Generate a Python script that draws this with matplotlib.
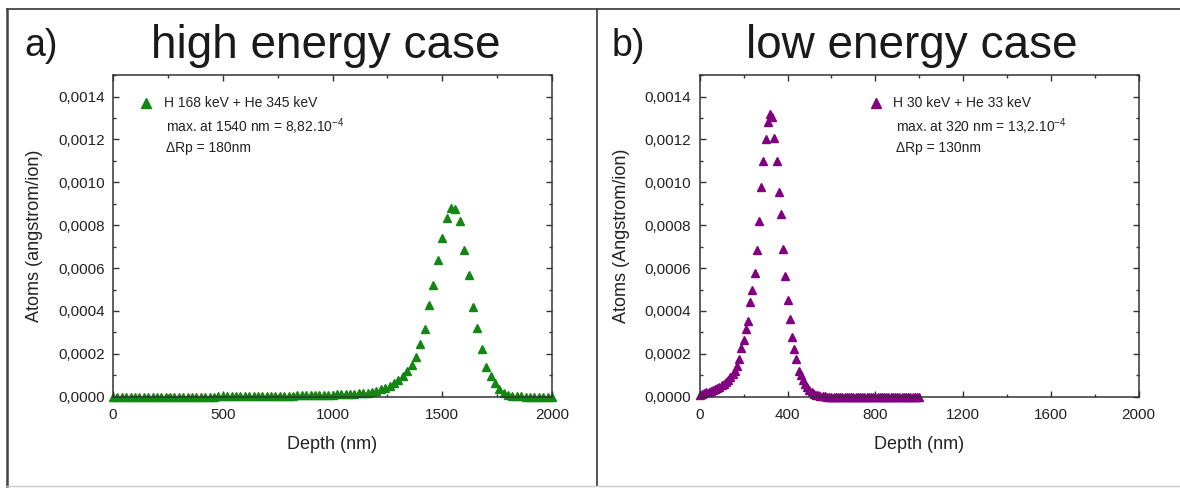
"""Implanted H/He depth profiles: high vs low energy case."""

import matplotlib
matplotlib.use("Agg")
import matplotlib.pyplot as plt
from matplotlib.lines import Line2D
from matplotlib.ticker import FuncFormatter, MultipleLocator
import numpy as np

plt.rcParams["font.family"] = ["Liberation Sans", "DejaVu Sans"]
plt.rcParams["mathtext.default"] = "regular"

# high energy case, depth step 20 nm, values in units of 1e-4 atoms/(A*ion)
high_depth = np.arange(0, 2001, 20)
high_vals = [
    0.01, 0.01, 0.01, 0.01, 0.01, 0.01, 0.01, 0.01, 0.01, 0.01,
    0.01, 0.01, 0.01, 0.01, 0.01, 0.01, 0.01, 0.01, 0.01, 0.01,
    0.01, 0.01, 0.01, 0.01, 0.02, 0.02, 0.02, 0.02, 0.02, 0.02,
    0.03, 0.03, 0.03, 0.03, 0.03, 0.04, 0.04, 0.04, 0.04, 0.05,
    0.05, 0.05, 0.06, 0.06, 0.06, 0.07, 0.07, 0.08, 0.08, 0.09,
    0.10, 0.11, 0.12, 0.13, 0.14, 0.15, 0.16, 0.17, 0.19, 0.22,
    0.27, 0.34, 0.41, 0.52, 0.65, 0.80, 0.97, 1.18, 1.47, 1.86,
    2.45, 3.15, 4.29, 5.21, 6.38, 7.39, 8.33, 8.82, 8.78, 8.21,
    6.86, 5.66, 4.19, 3.22, 2.24, 1.41, 0.99, 0.65, 0.34, 0.18,
    0.09, 0.05, 0.03, 0.02, 0.01, 0.01, 0.01, 0.01, 0.01, 0.01,
    0.01,
]

# low energy case, depth step 10 nm
low_depth = np.arange(0, 1001, 10)
low_vals = [
    0.10, 0.13, 0.16, 0.20, 0.23, 0.27, 0.30, 0.35, 0.40, 0.46,
    0.53, 0.61, 0.70, 0.80, 0.92, 1.06, 1.22, 1.45, 1.74, 2.26,
    2.63, 3.18, 3.54, 4.41, 4.97, 5.75, 6.85, 8.22, 9.78, 11.0,
    12.0, 12.82, 13.2, 13.05, 12.09, 11.0, 9.53, 8.53, 6.88, 5.64,
    4.52, 3.62, 2.79, 2.21, 1.77, 1.19, 1.00, 0.80, 0.60, 0.45,
    0.32, 0.22, 0.15, 0.10, 0.07, 0.05, 0.03, 0.02, 0.01, 0.01,
    0.01, 0.01, 0.01, 0.01, 0.01, 0.01, 0.01, 0.01, 0.01, 0.01,
    0.01, 0.01, 0.01, 0.01, 0.01, 0.01, 0.01, 0.01, 0.01, 0.01,
    0.01, 0.01, 0.01, 0.01, 0.01, 0.01, 0.01, 0.01, 0.01, 0.01,
    0.01, 0.01, 0.01, 0.01, 0.01, 0.01, 0.01, 0.01, 0.01, 0.01,
    0.01,
]

panels = [
    {
        "tag": "a)", "title": "high energy case",
        "x": high_depth, "y": np.array(high_vals) * 1e-4,
        "color": "#138613", "ylabel": "Atoms (angstrom/ion)",
        "major": 500, "minor": 250,
        "legend": ["H 168 keV + He 345 keV",
                   "max. at 1540 nm = 8,82.10$^{-4}$",
                   "\u0394Rp = 180nm"],
    },
    {
        "tag": "b)", "title": "low energy case",
        "x": low_depth, "y": np.array(low_vals) * 1e-4,
        "color": "#800080", "ylabel": "Atoms (Angstrom/ion)",
        "major": 400, "minor": 200,
        "legend": ["H 30 keV + He 33 keV",
                   "max. at 320 nm = 13,2.10$^{-4}$",
                   "\u0394Rp = 130nm"],
    },
]

fig = plt.figure(figsize=(11.8, 4.88), dpi=100)

axes_left = [0.0958, 0.593]
legend_x = [0.06, 0.386]
tag_x = [0.021, 0.518]
title_x = [0.276, 0.773]

for i, p in enumerate(panels):
    ax = fig.add_axes([axes_left[i], 0.187, 0.372, 0.659])
    ax.plot(p["x"], p["y"], linestyle="none", marker="^", ms=5.6,
            color=p["color"], clip_on=False)
    ax.set_xlim(0, 2000)
    ax.set_ylim(0, 0.0015)
    ax.xaxis.set_major_locator(MultipleLocator(p["major"]))
    ax.xaxis.set_minor_locator(MultipleLocator(p["minor"]))
    ax.yaxis.set_major_locator(MultipleLocator(0.0002))
    ax.yaxis.set_minor_locator(MultipleLocator(0.0001))
    ax.yaxis.set_major_formatter(
        FuncFormatter(lambda v, pos: f"{v:.4f}".replace(".", ",")))
    ax.tick_params(which="both", direction="in", top=True, right=True,
                   labelsize=11, color="#333333", labelcolor="#222222")
    ax.tick_params(which="major", length=4, width=1)
    ax.tick_params(which="minor", length=2.5, width=1)
    ax.tick_params(axis="x", which="major", pad=8)
    ax.tick_params(axis="y", which="major", pad=6)
    for s in ax.spines.values():
        s.set_color("#333333")
        s.set_linewidth(1.1)
    ax.set_xlabel("Depth (nm)", fontsize=13, color="#222222", labelpad=10)
    ax.set_ylabel(p["ylabel"], fontsize=13, color="#222222", labelpad=11)

    # legend drawn as marker + three text lines
    ax.plot([legend_x[i] + 0.015], [0.912], transform=ax.transAxes,
            marker="^", ms=6.5, color=p["color"], clip_on=False)
    ax.text(legend_x[i] + 0.055, 0.912, p["legend"][0], transform=ax.transAxes,
            fontsize=10, va="center", color="#222222")
    ax.text(legend_x[i] + 0.06, 0.841, p["legend"][1], transform=ax.transAxes,
            fontsize=10, va="center", color="#222222")
    ax.text(legend_x[i] + 0.06, 0.772, p["legend"][2], transform=ax.transAxes,
            fontsize=10, va="center", color="#222222")

    fig.text(tag_x[i], 0.905, p["tag"], fontsize=27, va="center",
             color="#1a1a1a")
    fig.text(title_x[i], 0.905, p["title"], fontsize=33, va="center",
             ha="center", color="#1a1a1a")

# outer frame of the composite figure
frame = "#444444"
fig.add_artist(Line2D([0.006, 1.0], [0.9815, 0.9815], color=frame, lw=1.3))
fig.add_artist(Line2D([0.006, 0.006], [0.004, 0.9815], color=frame, lw=1.8))
fig.add_artist(Line2D([0.506, 0.506], [0.004, 0.9815], color=frame, lw=1.3))
fig.add_artist(Line2D([0.006, 1.0], [0.004, 0.004], color="#cccccc", lw=1))

fig.savefig("out.png", dpi=100)
